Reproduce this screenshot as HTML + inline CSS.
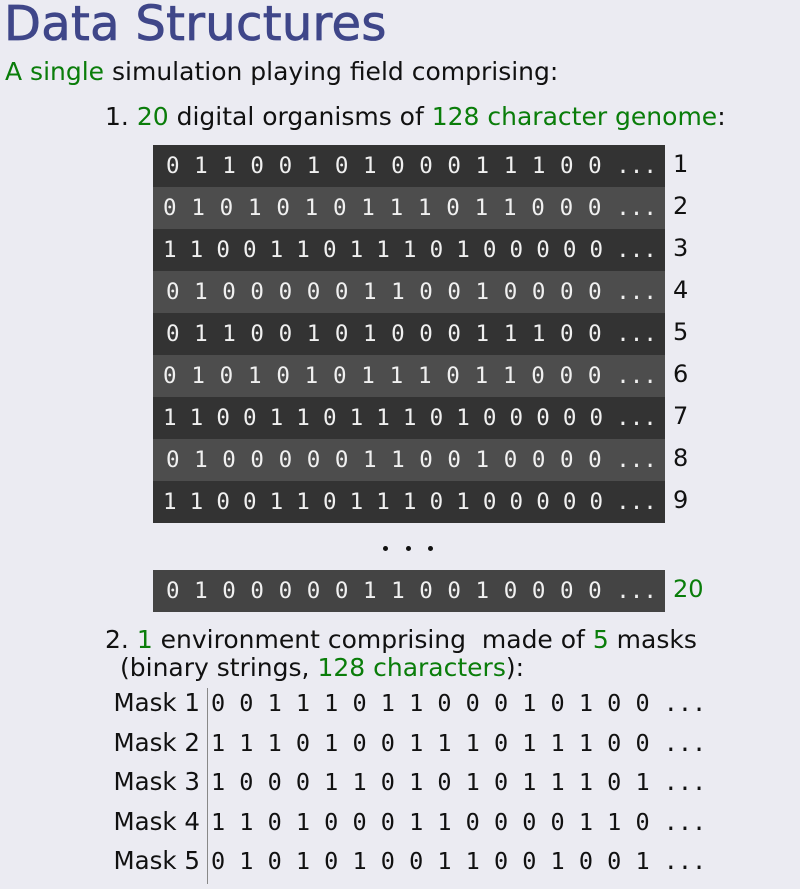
<!DOCTYPE html>
<html><head><meta charset="utf-8"><style>
body{margin:0;width:800px;height:889px;background:#ebebf2;position:relative;overflow:hidden;font-family:"DejaVu Sans","Liberation Sans",sans-serif;color:#111}
.a{position:absolute;white-space:nowrap}
.g{color:#0a7d0a}
.m{font-family:"DejaVu Sans Mono","Liberation Mono",monospace;font-size:22.5px;white-space:pre}
.row{position:absolute;left:153px;width:512px;height:42px;line-height:42px;color:#f0f0f0;box-sizing:border-box;padding-right:8px;display:flex;justify-content:space-between}
.n{position:absolute;left:673px;font-size:24px;line-height:42px}
.ml{position:absolute;left:0;width:200px;text-align:right;font-size:24.5px}
.md{position:absolute;left:211px;color:#111;font-size:23.5px}
</style></head><body>
<div class="a" style="left:4px;top:-4px;font-size:48px;color:#3f4689;letter-spacing:0.3px;-webkit-text-stroke:0.8px #3f4689">Data Structures</div>
<div class="a" style="left:5px;top:57px;font-size:25px"><span class="g">A single</span> simulation playing field comprising:</div>
<div class="a" style="left:105px;top:102px;font-size:25px">1. <span class="g">20</span> digital organisms of <span class="g">128 character genome</span>:</div>

<div class="row m" style="top:145px;background:#333;padding-left:13px"><span>0</span><span>1</span><span>1</span><span>0</span><span>0</span><span>1</span><span>0</span><span>1</span><span>0</span><span>0</span><span>0</span><span>1</span><span>1</span><span>1</span><span>0</span><span>0</span><span>...</span></div>
<div class="row m" style="top:187px;background:#4d4d4d;padding-left:10px"><span>0</span><span>1</span><span>0</span><span>1</span><span>0</span><span>1</span><span>0</span><span>1</span><span>1</span><span>1</span><span>0</span><span>1</span><span>1</span><span>0</span><span>0</span><span>0</span><span>...</span></div>
<div class="row m" style="top:229px;background:#333;padding-left:10px"><span>1</span><span>1</span><span>0</span><span>0</span><span>1</span><span>1</span><span>0</span><span>1</span><span>1</span><span>1</span><span>0</span><span>1</span><span>0</span><span>0</span><span>0</span><span>0</span><span>0</span><span>...</span></div>
<div class="row m" style="top:271px;background:#4d4d4d;padding-left:13px"><span>0</span><span>1</span><span>0</span><span>0</span><span>0</span><span>0</span><span>0</span><span>1</span><span>1</span><span>0</span><span>0</span><span>1</span><span>0</span><span>0</span><span>0</span><span>0</span><span>...</span></div>
<div class="row m" style="top:313px;background:#333;padding-left:13px"><span>0</span><span>1</span><span>1</span><span>0</span><span>0</span><span>1</span><span>0</span><span>1</span><span>0</span><span>0</span><span>0</span><span>1</span><span>1</span><span>1</span><span>0</span><span>0</span><span>...</span></div>
<div class="row m" style="top:355px;background:#4d4d4d;padding-left:10px"><span>0</span><span>1</span><span>0</span><span>1</span><span>0</span><span>1</span><span>0</span><span>1</span><span>1</span><span>1</span><span>0</span><span>1</span><span>1</span><span>0</span><span>0</span><span>0</span><span>...</span></div>
<div class="row m" style="top:397px;background:#333;padding-left:10px"><span>1</span><span>1</span><span>0</span><span>0</span><span>1</span><span>1</span><span>0</span><span>1</span><span>1</span><span>1</span><span>0</span><span>1</span><span>0</span><span>0</span><span>0</span><span>0</span><span>0</span><span>...</span></div>
<div class="row m" style="top:439px;background:#4d4d4d;padding-left:13px"><span>0</span><span>1</span><span>0</span><span>0</span><span>0</span><span>0</span><span>0</span><span>1</span><span>1</span><span>0</span><span>0</span><span>1</span><span>0</span><span>0</span><span>0</span><span>0</span><span>...</span></div>
<div class="row m" style="top:481px;background:#333;padding-left:10px"><span>1</span><span>1</span><span>0</span><span>0</span><span>1</span><span>1</span><span>0</span><span>1</span><span>1</span><span>1</span><span>0</span><span>1</span><span>0</span><span>0</span><span>0</span><span>0</span><span>0</span><span>...</span></div>
<div class="n" style="top:143px">1</div><div class="n" style="top:185px">2</div><div class="n" style="top:227px">3</div>
<div class="n" style="top:269px">4</div><div class="n" style="top:311px">5</div><div class="n" style="top:353px">6</div>
<div class="n" style="top:395px">7</div><div class="n" style="top:437px">8</div><div class="n" style="top:479px">9</div>
<div class="a" style="left:383px;top:538px;width:52px;height:8px;font-size:0">
<span style="position:absolute;left:0;top:8px;width:5px;height:5px;border-radius:50%;background:#111"></span>
<span style="position:absolute;left:23px;top:8px;width:5px;height:5px;border-radius:50%;background:#111"></span>
<span style="position:absolute;left:45px;top:8px;width:5px;height:5px;border-radius:50%;background:#111"></span></div>
<div class="row m" style="top:570px;background:#444;padding-left:13px"><span>0</span><span>1</span><span>0</span><span>0</span><span>0</span><span>0</span><span>0</span><span>1</span><span>1</span><span>0</span><span>0</span><span>1</span><span>0</span><span>0</span><span>0</span><span>0</span><span>...</span></div>
<div class="n g" style="top:568px">20</div>

<div class="a" style="left:105px;top:625px;font-size:25px">2. <span class="g">1</span> environment comprising&nbsp; made of <span class="g">5</span> masks</div>
<div class="a" style="left:120px;top:653px;font-size:25px">(binary strings, <span class="g">128 characters</span>):</div>
<div class="a" style="left:207px;top:688px;width:1px;height:196px;background:#888"></div>
<div class="a ml" style="top:688px">Mask 1</div><div class="a m md" style="top:689px">0 0 1 1 1 0 1 1 0 0 0 1 0 1 0 0 ...</div>
<div class="a ml" style="top:728px">Mask 2</div><div class="a m md" style="top:729px">1 1 1 0 1 0 0 1 1 1 0 1 1 1 0 0 ...</div>
<div class="a ml" style="top:767px">Mask 3</div><div class="a m md" style="top:768px">1 0 0 0 1 1 0 1 0 1 0 1 1 1 0 1 ...</div>
<div class="a ml" style="top:807px">Mask 4</div><div class="a m md" style="top:808px">1 1 0 1 0 0 0 1 1 0 0 0 0 1 1 0 ...</div>
<div class="a ml" style="top:846px">Mask 5</div><div class="a m md" style="top:847px">0 1 0 1 0 1 0 0 1 1 0 0 1 0 0 1 ...</div>
</body></html>
